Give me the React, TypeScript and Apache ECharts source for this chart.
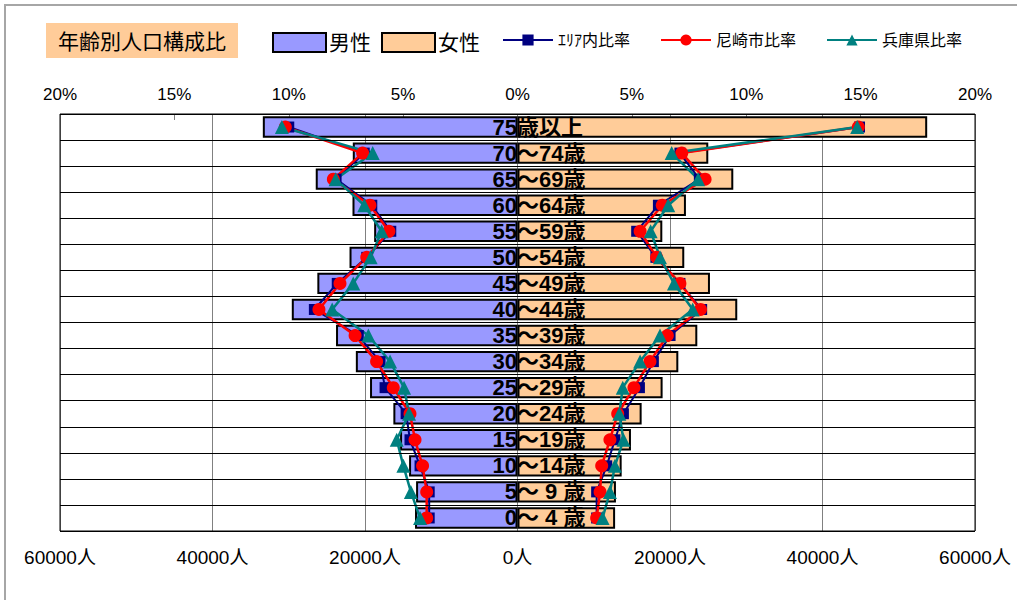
import React, { useEffect, useRef } from "react";
import * as echarts from "echarts";

const categories = [
  "75歳以上", "70～74歳", "65～69歳", "60～64歳", "55～59歳", "50～54歳",
  "45～49歳", "40～44歳", "35～39歳", "30～34歳", "25～29歳", "20～24歳",
  "15～19歳", "10～14歳", "5～ 9 歳", "0～ 4 歳",
];

const malePop = [33400, 21600, 26460, 21640, 18800, 22030, 26250, 29600, 23800, 21200, 19340, 16280, 15400, 14220, 13300, 13440];
const femalePop = [53730, 25020, 28300, 22090, 18990, 21870, 25240, 28820, 23580, 21090, 19030, 16280, 14880, 13660, 12910, 12800];

const areaMale = [10.0, 6.7, 7.93, 6.37, 5.54, 6.59, 7.88, 8.88, 6.96, 6.01, 5.79, 4.87, 4.7, 4.26, 3.86, 3.86];
const amaMale = [10.15, 6.77, 8.05, 6.45, 5.62, 6.59, 7.76, 8.68, 7.1, 6.16, 5.43, 4.7, 4.48, 4.15, 3.97, 3.97];
const hyogoMale = [10.3, 6.33, 7.95, 6.7, 5.94, 6.42, 7.18, 8.1, 6.52, 5.57, 4.96, 4.74, 5.28, 4.99, 4.66, 4.26];

const areaFemale = [14.95, 7.1, 7.95, 6.16, 5.21, 6.05, 7.1, 8.05, 6.67, 5.94, 5.33, 4.63, 4.26, 3.9, 3.46, 3.46];
const amaFemale = [14.9, 7.18, 8.2, 6.33, 5.36, 6.08, 7.1, 8.0, 6.55, 5.79, 5.09, 4.38, 4.04, 3.68, 3.61, 3.46];
const hyogoFemale = [14.85, 6.74, 7.9, 6.59, 5.82, 6.23, 6.84, 7.66, 6.23, 5.36, 4.6, 4.45, 4.63, 4.26, 4.04, 3.72];

const TITLE = "年齢別人口構成比";
const S_MALE = "男性";
const S_FEMALE = "女性";
const S_AREA = "ｴﾘｱ内比率";
const S_AMA = "尼崎市比率";
const S_HYOGO = "兵庫県比率";

const FONT = "'Liberation Sans', 'Noto Sans CJK JP', sans-serif";

const splitLabel = (s: string) => {
  const m = s.match(/^(\d+)(.*)$/);
  return m ? [m[1], m[2]] : ["", s];
};

export default function App() {
  const ref = useRef<HTMLDivElement>(null);
  useEffect(() => {
    if (!ref.current) return;
    const chart = echarts.init(ref.current, undefined, { renderer: "svg" });
    const lineSeries = (name: string, data: number[], color: string, symbol: string, size: number, width: number, sign: number) => ({
      name,
      type: "line",
      xAxisIndex: 1,
      yAxisIndex: 0,
      data: data.map((v) => v * sign),
      symbol,
      symbolSize: size,
      z: 4,
      lineStyle: { color, width },
      itemStyle: { color },
    });
    chart.setOption({
      animation: false,
      backgroundColor: "#fff",
      textStyle: { fontFamily: FONT },
      title: {
        text: TITLE,
        left: 46,
        top: 23,
        backgroundColor: "#FFCC99",
        padding: [8, 12, 6, 12],
        textStyle: { fontSize: 21, fontWeight: "normal", color: "#000", fontFamily: FONT },
      },
      legend: [
        {
          data: [S_MALE, S_FEMALE],
          left: 272,
          top: 32,
          padding: 0,
          icon: "rect",
          itemWidth: 53,
          itemHeight: 19,
          itemGap: 10,
          textStyle: { fontSize: 21, color: "#000", fontFamily: FONT, padding: [0, 0, 0, -2] },
        },
        {
          data: [S_AREA, S_AMA, S_HYOGO],
          left: 502,
          top: 32,
          padding: 0,
          itemWidth: 50,
          itemHeight: 14,
          itemGap: 30,
          textStyle: { fontSize: 16, color: "#000", fontFamily: FONT },
        },
      ],
      graphic: [
        {
          type: "rect",
          shape: { x: 5, y: 5, width: 1030, height: 620 },
          style: { fill: "none", stroke: "#a6a6a6", lineWidth: 2 },
          silent: true,
          z: 0,
        },
      ],
      grid: {
        left: 60,
        right: 42,
        top: 114,
        bottom: 69,
        show: true,
        borderColor: "#000",
        borderWidth: 1,
        z: 1,
      },
      xAxis: [
        {
          type: "value",
          position: "bottom",
          min: -60000,
          max: 60000,
          interval: 20000,
          axisLine: { show: false },
          axisTick: { show: false },
          splitLine: { show: true, lineStyle: { color: "#808080", width: 1 } },
          axisLabel: {
            margin: 17,
            fontSize: 19,
            color: "#000",
            fontFamily: FONT,
            formatter: (v: number) => Math.abs(v) + "人",
          },
        },
        {
          type: "value",
          position: "top",
          min: -20,
          max: 20,
          interval: 5,
          axisLine: { show: false },
          axisTick: { show: true, inside: true, length: 6, lineStyle: { color: "#808080" } },
          splitLine: { show: false },
          axisLabel: {
            margin: 11,
            fontSize: 17,
            color: "#000",
            fontFamily: FONT,
            formatter: (v: number) => Math.abs(v) + "%",
          },
        },
      ],
      yAxis: [
        {
          type: "category",
          data: categories,
          inverse: true,
          position: "left",
          z: 6,
          axisLine: { show: false },
          axisTick: { show: false },
          splitLine: { show: true, interval: 0, lineStyle: { color: "#000", width: 1 } },
          axisLabel: {
            interval: 0,
            margin: -457,
            align: "right",
            fontSize: 22,
            fontWeight: "bold",
            color: "#000",
            fontFamily: FONT,
            formatter: (v: string) => splitLabel(v)[0],
          },
        },
        {
          type: "category",
          data: categories,
          inverse: true,
          position: "right",
          z: 6,
          axisLine: { show: false },
          axisTick: { show: false },
          splitLine: { show: false },
          axisLabel: {
            interval: 0,
            margin: -458,
            align: "left",
            fontSize: 22,
            fontWeight: "bold",
            color: "#000",
            fontFamily: FONT,
            formatter: (v: string) => splitLabel(v)[1],
          },
        },
      ],
      series: [
        {
          name: S_MALE,
          type: "bar",
          xAxisIndex: 0,
          yAxisIndex: 0,
          data: malePop.map((v) => -v),
          barCategoryGap: "18%",
          barGap: "-100%",
          z: 2,
          itemStyle: { color: "#9999FF", borderColor: "#000", borderWidth: 2 },
        },
        {
          name: S_FEMALE,
          type: "bar",
          xAxisIndex: 0,
          yAxisIndex: 0,
          data: femalePop,
          barCategoryGap: "18%",
          barGap: "-100%",
          z: 2,
          itemStyle: { color: "#FFCC99", borderColor: "#000", borderWidth: 2 },
        },
        lineSeries(S_AREA, areaMale, "#000080", "rect", 11, 2, -1),
        lineSeries(S_AREA, areaFemale, "#000080", "rect", 11, 2, 1),
        lineSeries(S_AMA, amaMale, "#FF0000", "circle", 13, 2.5, -1),
        lineSeries(S_AMA, amaFemale, "#FF0000", "circle", 13, 2.5, 1),
        lineSeries(S_HYOGO, hyogoMale, "#008080", "triangle", 14, 2.5, -1),
        lineSeries(S_HYOGO, hyogoFemale, "#008080", "triangle", 14, 2.5, 1),
      ],
    });
    return () => chart.dispose();
  }, []);
  return (
    <div
      ref={ref}
      style={{ position: "fixed", left: 0, top: 0, width: 1017, height: 600 }}
    />
  );
}
